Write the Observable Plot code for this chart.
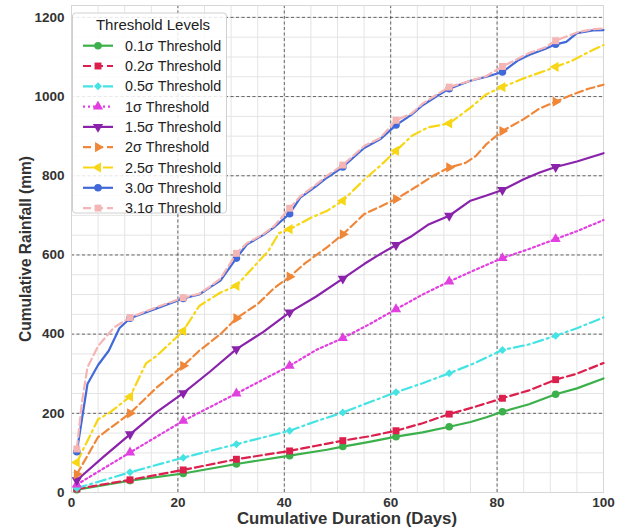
<!DOCTYPE html>
<html><head><meta charset="utf-8">
<script src="https://cdn.jsdelivr.net/npm/d3@7"></script>
<script src="https://cdn.jsdelivr.net/npm/@observablehq/plot@0.6"></script>
<style>
body{margin:0;background:#fff;}
#chart svg{font-family:"Liberation Sans",Arial,sans-serif;overflow:visible;}
</style>
</head><body><div id="chart"></div>
<script>
// ---- data (day, cumulative rainfall mm) ----
const seriesNames = ["0.1σ Threshold","0.2σ Threshold","0.5σ Threshold","1σ Threshold","1.5σ Threshold","2σ Threshold","2.5σ Threshold","3.0σ Threshold","3.1σ Threshold"];
const seriesColors = ["#3cb04a","#dc1f4c","#45e3e3","#e23fe0","#8a22ab","#ef8638","#f7d715","#4169d9","#f5b5b5"];
const seriesDash = [null,"8,4","10,4,2,4","2,3",null,"8,4","10,4,2,4",null,"8,4"];
const seriesSymbols = ["circle","square","diamond","triUp","triDown","triRight","triLeft","circle","square"];
const markerDays = [1,11,21,31,41,51,61,71,81,91];

const s01 = [[1,7],[11,30],[21,48],[31,72],[41,93],[48,108],[51,116],[56,128],[61,141],[66,152],[71,166],[75,178],[78,190],[81,204],[86,223],[91,248],[95,263],[100,288]];
const s02 = [[1,9],[11,32],[21,57],[31,84],[41,105],[46,118],[51,131],[56,142],[61,156],[66,175],[71,198],[76,217],[81,238],[86,258],[91,285],[95,300],[100,327]];
const s05 = [[1,11],[11,51],[21,88],[31,122],[41,156],[46,180],[51,202],[56,228],[61,253],[66,276],[71,301],[76,328],[81,360],[86,374],[91,396],[95,415],[100,442]];
const s10 = [[1,20],[11,101],[21,181],[31,250],[41,320],[46,360],[51,390],[56,425],[61,463],[66,500],[71,533],[76,563],[81,592],[86,615],[91,640],[95,660],[100,688]];
const s15 = [[1,31],[6,90],[11,147],[16,203],[21,251],[26,305],[31,362],[36,405],[41,455],[46,495],[51,540],[55,577],[58,602],[61,625],[64,648],[67,676],[71,699],[75,737],[78,750],[81,764],[85,791],[88,808],[91,822],[95,836],[100,857]];
const s20 = [[1,46],[5,140],[11,200],[16,265],[21,320],[24,358],[28,400],[31,440],[35,476],[38,515],[41,545],[44,580],[48,619],[51,652],[55,703],[58,722],[61,741],[65,774],[68,800],[71,821],[74,832],[76,850],[78,880],[81,913],[85,943],[88,970],[91,987],[94,1004],[97,1019],[100,1030]];
const s25 = [[1,76],[5,185],[7,200],[11,242],[14,326],[16,345],[21,408],[24,471],[28,505],[31,522],[33,552],[37,610],[39,655],[41,665],[45,694],[48,711],[51,737],[55,790],[58,825],[61,863],[64,901],[67,922],[71,932],[75,972],[78,1006],[81,1024],[85,1046],[89,1065],[91,1075],[94,1090],[97,1111],[100,1130]];
const s30 = [[1,103],[3,274],[5,322],[7,358],[9,415],[11,440],[16,465],[21,490],[24,500],[26,518],[28,535],[31,592],[33,627],[36,650],[38,669],[41,704],[43,745],[46,774],[48,795],[51,822],[55,870],[58,892],[61,928],[64,955],[66,978],[69,1004],[71,1020],[75,1040],[78,1050],[81,1062],[84,1092],[86,1105],[89,1120],[91,1132],[93,1138],[95,1160],[98,1167],[100,1168]];
const s31 = [[1,110],[2,232],[3,316],[5,370],[8,417],[11,442],[16,468],[21,492],[24,502],[26,520],[28,540],[31,604],[33,630],[36,652],[38,672],[41,718],[43,748],[46,778],[48,800],[51,827],[55,875],[58,895],[61,940],[64,958],[66,982],[69,1008],[71,1024],[75,1040],[78,1052],[81,1076],[84,1096],[86,1110],[89,1124],[91,1141],[95,1162],[98,1170],[100,1172]];
const seriesData = [s01,s02,s05,s10,s15,s20,s25,s30,s31];

const xTicks = [0,20,40,60,80,100];
const yTicks = [0,200,400,600,800,1000,1200];
const xTitle = "Cumulative Duration (Days)";
const yTitle = "Cumulative Rainfall (mm)";
const legendTitle = "Threshold Levels";

// ---- custom triangle symbols ----
function tri(angle){
  return {draw(ctx,size){
    const R = Math.sqrt(size/1.299);
    for(let k=0;k<3;k++){
      const a = angle + k*2*Math.PI/3;
      const x = R*Math.cos(a), y = R*Math.sin(a);
      if(k===0) ctx.moveTo(x,y); else ctx.lineTo(x,y);
    }
    ctx.closePath();
  }};
}
const symbolMap = {
  circle: d3.symbolCircle, square: d3.symbolSquare, diamond: d3.symbolDiamond2,
  triUp: tri(-Math.PI/2), triDown: tri(Math.PI/2), triRight: tri(0), triLeft: tri(Math.PI)
};
const symbolR = {circle:3.8, square:3.9, diamond:3.6, triUp:3.8, triDown:3.8, triRight:3.8, triLeft:3.8};

const marks = [
  Plot.gridX(d3.range(0,101,5), {stroke:"#e4e4e4", strokeOpacity:1, strokeWidth:1}),
  Plot.gridY(d3.range(0,1201,50), {stroke:"#e4e4e4", strokeOpacity:1, strokeWidth:1}),
  Plot.gridX([20,40,60,80], {stroke:"#555", strokeOpacity:1, strokeWidth:0.9, strokeDasharray:"3,2.5"}),
  Plot.gridY([200,400,600,800,1000,1200], {stroke:"#555", strokeOpacity:1, strokeWidth:0.9, strokeDasharray:"3,2.5"}),
  Plot.frame({stroke:"#d6d6d6"})
];
seriesData.forEach((data,i)=>{
  marks.push(Plot.line(data, {x:d=>d[0], y:d=>d[1], stroke:seriesColors[i], strokeWidth:2.2,
    strokeDasharray:seriesDash[i] || undefined, curve:"linear", strokeLinejoin:"round"}));
  const pts = data.filter(d=>markerDays.includes(d[0]));
  marks.push(Plot.dot(pts, {x:d=>d[0], y:d=>d[1], fill:seriesColors[i], stroke:"none",
    symbol:symbolMap[seriesSymbols[i]], r:symbolR[seriesSymbols[i]]}));
});
marks.push(
  Plot.axisX({ticks:xTicks, tickFormat:d=>String(d), tickSize:0, tickPadding:5, fontSize:13.5, fontWeight:"bold", fill:"#333", label:null}),
  Plot.axisY({ticks:yTicks, tickFormat:d=>String(d), tickSize:0, tickPadding:7, fontSize:13.5, fontWeight:"bold", fill:"#333", label:null})
);

const svg = Plot.plot({
  width:625, height:529,
  marginLeft:71, marginRight:22, marginTop:5, marginBottom:37,
  x:{domain:[0,100]},
  y:{domain:[0,1230]},
  marks
});
document.getElementById("chart").appendChild(svg);

// ---- axis titles ----
const S = d3.select(svg);
S.append("text").attr("x",347).attr("y",518.5).attr("dy","0.35em").attr("text-anchor","middle")
  .attr("font-size",16).attr("font-weight","bold").attr("fill","#333")
  .attr("textLength",220).attr("lengthAdjust","spacingAndGlyphs").text(xTitle);
S.append("text").attr("transform","translate(25,249) rotate(-90)").attr("dy","0.35em").attr("text-anchor","middle")
  .attr("font-size",16).attr("font-weight","bold").attr("fill","#333")
  .attr("textLength",186).attr("lengthAdjust","spacingAndGlyphs").text(yTitle);

// ---- legend ----
const L = S.append("g").attr("font-family","'Liberation Sans',Arial,sans-serif").attr("text-anchor","start");
L.append("rect").attr("x",72.5).attr("y",13).attr("width",154).attr("height",200)
  .attr("rx",3).attr("fill","#fff").attr("fill-opacity",0.85).attr("stroke","#d0d0d0");
L.append("text").attr("x",153).attr("y",25).attr("dy","0.35em").attr("text-anchor","middle")
  .attr("font-size",15).attr("fill","#222").text(legendTitle);
seriesNames.forEach((name,i)=>{
  const y = 45.7 + i*20.3;
  L.append("line").attr("x1",83).attr("x2",113).attr("y1",y).attr("y2",y)
    .attr("stroke",seriesColors[i]).attr("stroke-width",2.2)
    .attr("stroke-dasharray",seriesDash[i]||null);
  const sym = seriesSymbols[i];
  const r = symbolR[sym];
  L.append("path").attr("transform",`translate(98,${y})`)
    .attr("d", d3.symbol().type(symbolMap[sym]).size(Math.PI*r*r)())
    .attr("fill",seriesColors[i]);
  L.append("text").attr("x",125).attr("y",y).attr("dy","0.35em").attr("text-anchor","start")
    .attr("font-size",14.3).attr("fill","#222").text(name);
});
</script>
</body></html>
